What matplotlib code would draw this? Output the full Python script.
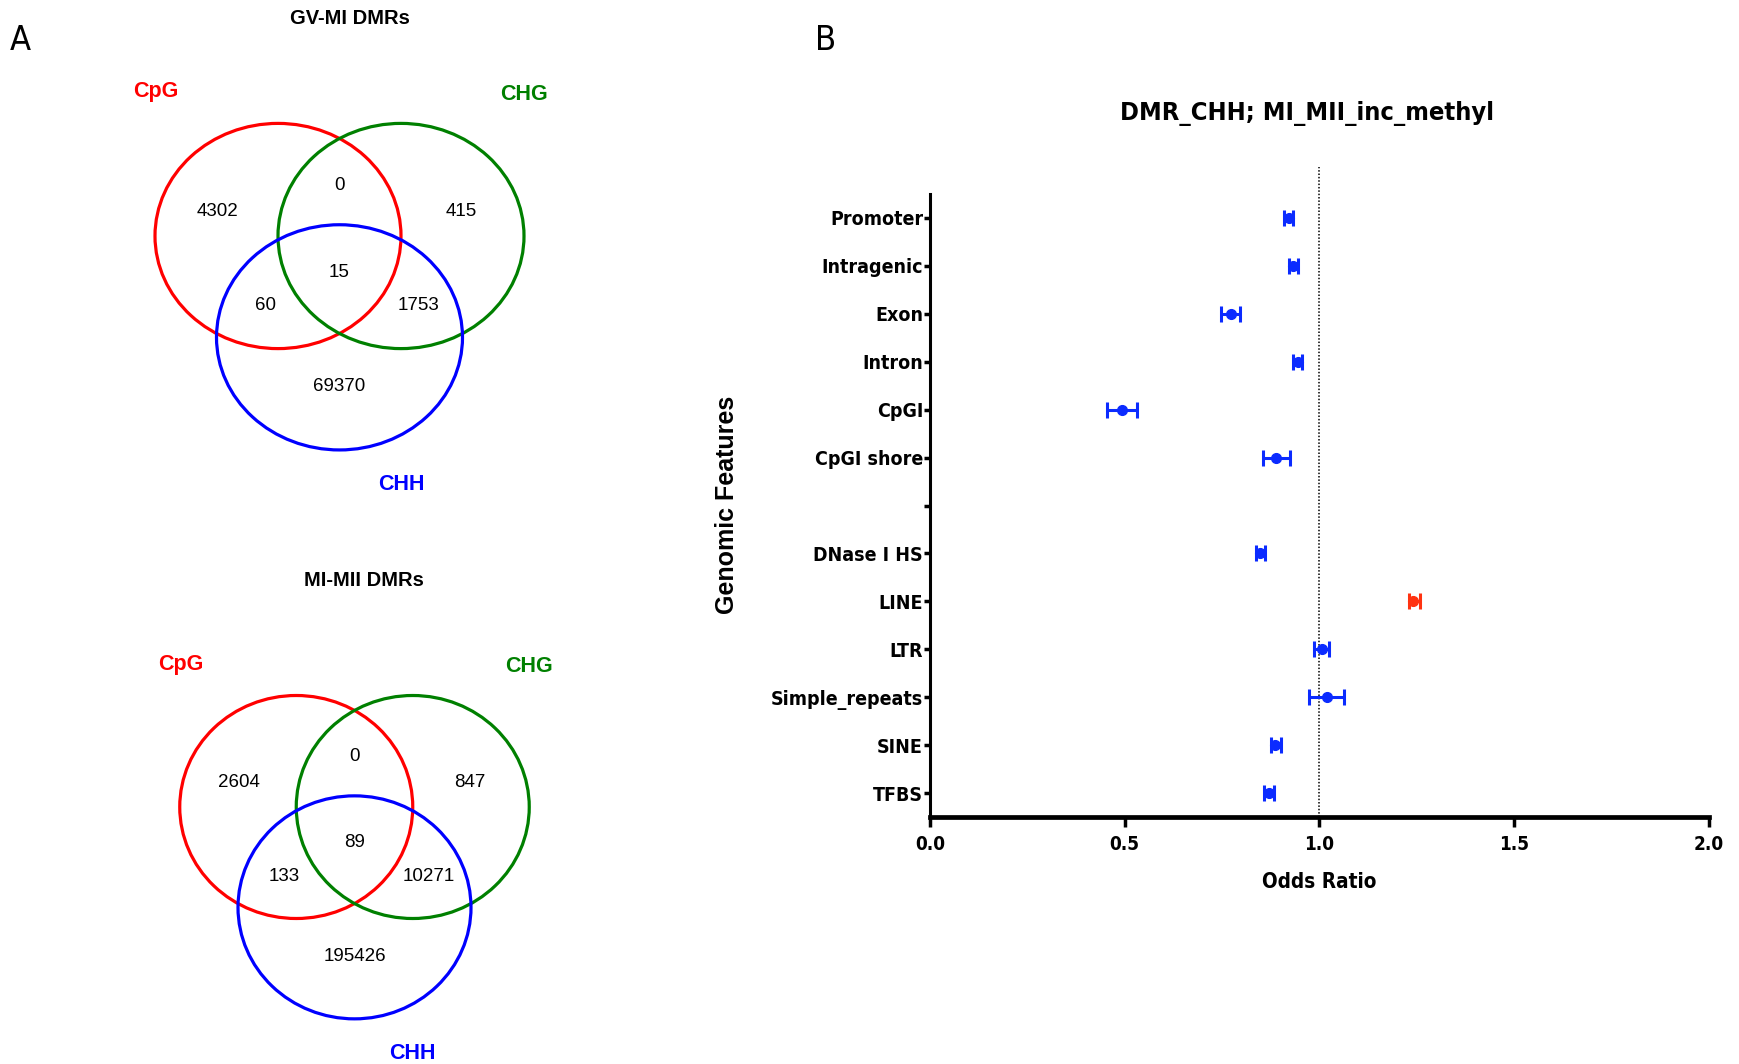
import matplotlib
matplotlib.use("Agg")
import matplotlib.pyplot as plt
from matplotlib.patches import Ellipse
from matplotlib import font_manager as fm
import numpy as np

# Venn counts, region order: A only, A&B, B only, A&B&C, A&C, B&C, C only
set_names = ["CpG", "CHG", "CHH"]
set_colors = ["#ff0000", "#008000", "#0000ff"]
gv_mi_counts = [4302, 0, 415, 15, 60, 1753, 69370]
mi_mii_counts = [2604, 0, 847, 89, 133, 10271, 195426]

# forest plot (odds ratio with 95% CI), "" is the empty spacer row
features = ["Promoter", "Intragenic", "Exon", "Intron", "CpGI", "CpGI shore", "",
            "DNase I HS", "LINE", "LTR", "Simple_repeats", "SINE", "TFBS"]
odds_ratio = [0.921, 0.933, 0.772, 0.944, 0.492, 0.889, np.nan,
              0.848, 1.241, 1.007, 1.019, 0.887, 0.870]
ci_low = [0.910, 0.922, 0.748, 0.933, 0.454, 0.855, np.nan,
          0.836, 1.229, 0.987, 0.972, 0.875, 0.858]
ci_high = [0.932, 0.944, 0.797, 0.955, 0.531, 0.925, np.nan,
           0.860, 1.257, 1.025, 1.063, 0.900, 0.882]
x_ticks = [0.0, 0.5, 1.0, 1.5, 2.0]

REG = ["Liberation Sans", "DejaVu Sans"]


def find_narrow(bold):
    # look for a condensed / narrow sans face, Liberation first
    cands = []
    for f in fm.fontManager.ttflist:
        n = f.fname.lower()
        if ("narrow" in n or "condensed" in n) and "italic" not in n and "oblique" not in n:
            if ("bold" in n) == bold and "mono" not in n and "serif" not in n.replace("sans", ""):
                cands.append(f.fname)
    cands.sort(key=lambda p: (0 if "liberation" in p.lower() else 1, p))
    return cands[0] if cands else None


narrow_bold = find_narrow(True)
narrow_reg = find_narrow(False)
# Liberation Narrow is close to the original; DejaVu Condensed runs wider
narrow_scale = 1.0 if (narrow_bold and "liberation" in narrow_bold.lower()) else 0.85


def nfont(size, bold=True):
    path = narrow_bold if bold else narrow_reg
    if path:
        return fm.FontProperties(fname=path, size=size * narrow_scale)
    # no narrow face installed: shrink a normal one to keep the widths
    return fm.FontProperties(family=REG, weight="bold" if bold else "normal",
                             size=size * 0.89)


W, H = 1740, 1064
fig = plt.figure(figsize=(W / 100, H / 100), dpi=100)

# overlay in pixel coordinates for venns and free text
ov = fig.add_axes([0, 0, 1, 1])
ov.set_xlim(0, W)
ov.set_ylim(H, 0)
ov.axis("off")

region_pos = [(-0.99, -0.22), (0, -0.45), (0.99, -0.22), (0, 0.32),
              (-0.6, 0.62), (0.64, 0.62), (0, 1.34)]
label_pos = [(-1.49, -1.28), (1.5, -1.26), (0.5, 2.21)]


def draw_venn(cx, cy, rx, ry, counts, title, title_xy):
    centers = [(cx - 0.5 * rx, cy), (cx + 0.5 * rx, cy), (cx, cy + 0.9 * ry)]
    for (x0, y0), col in zip(centers, set_colors):
        ov.add_patch(Ellipse((x0, y0), 2 * rx, 2 * ry, fill=False, ec=col, lw=2.3))
    for (fx, fy), n in zip(region_pos, counts):
        ov.text(cx + fx * rx, cy + fy * ry, str(n), ha="center", va="center",
                fontsize=13.5, family=REG)
    for (fx, fy), name, col in zip(label_pos, set_names, set_colors):
        ov.text(cx + fx * rx, cy + fy * ry, name, ha="center", va="center",
                fontsize=15.5, fontweight="bold", color=col, family=REG)
    ov.text(title_xy[0], title_xy[1], title, ha="center", va="center",
            fontsize=14.5, fontweight="bold", family=REG)


draw_venn(339.5, 236, 123, 112.6, gv_mi_counts, "GV-MI DMRs", (349.5, 18))
draw_venn(354.5, 807, 116.5, 111.5, mi_mii_counts, "MI-MII DMRs", (364, 580))

ov.text(20, 41, "A", ha="center", va="center", fontproperties=nfont(29, False))
ov.text(826, 41, "B", ha="center", va="center", fontproperties=nfont(29, False))

# forest plot
ax = fig.add_axes([930 / W, 1 - 817 / H, 779 / W, 623 / H])
ypos = np.arange(len(features))
for i in range(len(features)):
    if np.isnan(odds_ratio[i]):
        continue
    col = "#ff3311" if ci_low[i] > 1 else "#0b2bff"
    ax.errorbar(odds_ratio[i], ypos[i],
                xerr=[[odds_ratio[i] - ci_low[i]], [ci_high[i] - odds_ratio[i]]],
                fmt="o", color=col, ms=7, capsize=5.5, elinewidth=2.2, capthick=2.2,
                zorder=3)

ax.plot([1, 1], [len(features) - 0.5, -1.06], ls=(0, (1, 1.2)), color="k", lw=1.1,
        clip_on=False, zorder=2)

ax.set_xlim(0, 2)
ax.set_ylim(len(features) - 0.5, -0.5)
ax.set_xticks(x_ticks)
ax.set_xticklabels(["%.1f" % t for t in x_ticks], fontproperties=nfont(16))
ax.set_yticks(ypos)
ax.set_yticklabels(features, fontproperties=nfont(16.5))
ax.spines["top"].set_visible(False)
ax.spines["right"].set_visible(False)
ax.spines["left"].set_linewidth(2.2)
ax.spines["bottom"].set_linewidth(3.4)
ax.tick_params(axis="y", length=4, width=2.5, pad=1)
ax.tick_params(axis="x", length=7, width=2.5, pad=6)
ax.patch.set_alpha(0)

ov.text(1307, 114, "DMR_CHH; MI_MII_inc_methyl", ha="center", va="center",
        fontproperties=nfont(21.5))
ov.text(1319, 882, "Odds Ratio", ha="center", va="center", fontproperties=nfont(17.5))
ov.text(727, 505, "Genomic Features", ha="center", va="center", rotation=90,
        fontsize=18, fontweight="bold", family=REG)

fig.savefig("out.png", dpi=100)
